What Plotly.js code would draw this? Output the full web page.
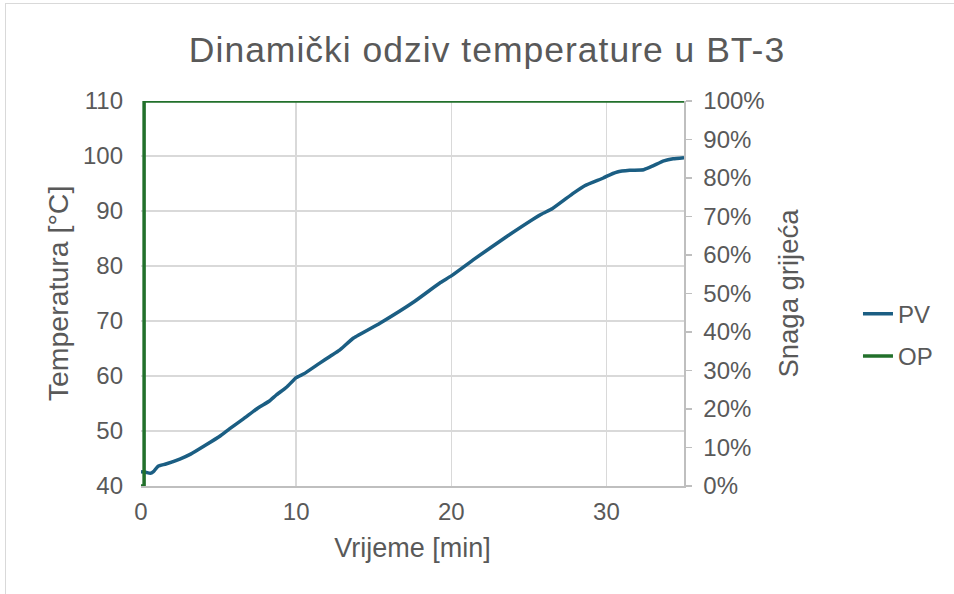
<!DOCTYPE html>
<html>
<head>
<meta charset="utf-8">
<script src="https://cdn.plot.ly/plotly-3.0.1.min.js"></script>
<style>
  html, body { margin: 0; padding: 0; background: #ffffff; overflow: hidden; }
  #wrap { position: relative; width: 954px; height: 594px; }
  #chart { position: absolute; left: 0; top: 0; width: 954px; height: 594px; }
  #frame { position: absolute; left: 5px; top: 3px; width: 960px; height: 600px;
           border: 1px solid #d9d9d9; pointer-events: none; box-sizing: border-box; }
  .gtitle { letter-spacing: 1px; }
</style>
</head>
<body>
<div id="wrap">
  <div id="chart"></div>
  <div id="frame"></div>
</div>
<script>
// ---- data ----
const pvTime = [0.0, 0.3, 0.6, 0.8, 1.1, 1.6, 2.5, 3.2, 4.2, 5.1, 5.7, 6.6, 7.5, 8.3, 8.7, 9.4,
                10.0, 10.5, 11.5, 12.2, 12.8, 13.7, 15.4, 17.6, 19.3, 20.0, 21.5, 23.6, 25.8,
                26.5, 27.9, 28.6, 29.8, 30.0, 30.7, 31.5, 32.4, 33.0, 33.7, 34.3, 35.0];
const pvTemp = [42.6, 42.5, 42.3, 42.6, 43.6, 44.0, 44.9, 45.8, 47.5, 49.1, 50.4, 52.2, 54.1, 55.5, 56.5, 58.0,
                59.7, 60.4, 62.3, 63.6, 64.7, 66.9, 69.6, 73.5, 77.0, 78.2, 81.3, 85.4, 89.4,
                90.4, 93.3, 94.6, 96.0, 96.3, 97.1, 97.4, 97.5, 98.2, 99.1, 99.5, 99.7];
const opTime = [0.0, 0.2, 0.2, 35.0];
const opPower = [0, 0, 100, 100];

const seriesNames = ['PV', 'OP'];
const xTickVals = [0, 10, 20, 30];
const yTickVals = [40, 50, 60, 70, 80, 90, 100, 110];
const y2TickVals = [0, 10, 20, 30, 40, 50, 60, 70, 80, 90, 100];

const titleText = 'Dinamički odziv temperature u BT-3';
const xTitle = 'Vrijeme [min]';
const yTitle = 'Temperatura [°C]';
const y2Title = 'Snaga grijeća';

// ---- styling ----
const txt = '#595959';
const grid = '#d9d9d9';
const axisCol = '#bfbfbf';
const fontFam = '"Liberation Sans", Arial, sans-serif';

const traces = [
  {
    x: pvTime, y: pvTemp, name: seriesNames[0], type: 'scatter', mode: 'lines',
    line: { color: '#1b5e83', width: 3.5, shape: 'spline', smoothing: 0.4 },
    xaxis: 'x', yaxis: 'y', legendgroup: 'a'
  },
  {
    x: opTime, y: opPower, name: seriesNames[1], type: 'scatter', mode: 'lines',
    line: { color: '#22702b', width: 3.5 },
    xaxis: 'x', yaxis: 'y2', legendgroup: 'b'
  }
];

const layout = {
  width: 954, height: 594,
  margin: { l: 141, r: 270, t: 101, b: 108, pad: 0 },
  paper_bgcolor: '#ffffff', plot_bgcolor: '#ffffff',
  font: { family: fontFam, color: txt, size: 24 },
  showlegend: true,
  title: {
    text: titleText,
    font: { family: fontFam, size: 35.5, color: txt },
    x: 0.5105, xref: 'container', xanchor: 'center',
    y: 1 - 50 / 594, yref: 'container', yanchor: 'middle'
  },
  xaxis: {
    range: [0, 35],
    tickvals: xTickVals, ticktext: xTickVals.map(String),
    showgrid: true, gridcolor: grid, gridwidth: 1.5,
    zeroline: false,
    showline: true, linecolor: axisCol, linewidth: 1.5,
    ticks: '', ticklabelstandoff: 4,
    tickfont: { size: 24, color: txt },
    title: { text: xTitle, font: { size: 27, color: txt }, standoff: 14 },
    fixedrange: true
  },
  yaxis: {
    range: [40, 110],
    tickvals: yTickVals, ticktext: yTickVals.map(String),
    showgrid: true, gridcolor: grid, gridwidth: 1.5,
    zeroline: false, showline: false,
    ticks: '', ticklabelstandoff: 17,
    tickfont: { size: 24, color: txt },
    title: { text: yTitle, font: { size: 28.5, color: txt }, standoff: 5 },
    fixedrange: true
  },
  yaxis2: {
    overlaying: 'y', side: 'right',
    range: [0, 100],
    tickvals: y2TickVals, ticktext: y2TickVals.map(v => v + '%'),
    showgrid: false, zeroline: false,
    showline: true, linecolor: axisCol, linewidth: 1.5,
    ticks: 'outside', ticklen: 6, tickwidth: 1.5, tickcolor: axisCol,
    ticklabelstandoff: 7,
    tickfont: { size: 24, color: txt },
    title: { text: y2Title, font: { size: 27.5, color: txt }, standoff: 15 },
    fixedrange: true
  },
  legend: {
    x: 1.3204, xanchor: 'left', y: 0.392, yanchor: 'middle',
    font: { size: 24, color: txt },
    bgcolor: 'rgba(0,0,0,0)',
    traceorder: 'grouped', tracegroupgap: 8
  }
};

Plotly.newPlot('chart', traces, layout, { displayModeBar: false, staticPlot: true });
</script>
</body>
</html>
